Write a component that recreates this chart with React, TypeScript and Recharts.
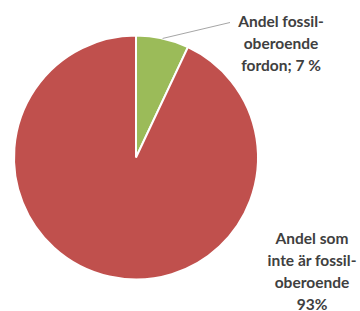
import React from "react";
import { PieChart, Pie, Cell } from "recharts";

const categories = ["Andel fossil-oberoende fordon", "Andel som inte är fossil-oberoende"];
const shares = [7, 93];
const labelLines = [
  ["Andel fossil-", "oberoende", "fordon; 7 %"],
  ["Andel som", "inte är fossil-", "oberoende", "93%"],
];
const colors = ["#9BBB59", "#C0504D"];

const data = categories.map((name, i) => ({ name, value: shares[i] }));

const RAD = Math.PI / 180;

const renderLabel = (props: any) => {
  const { cx, cy, midAngle, outerRadius, index } = props;
  const lines = labelLines[index];
  let tx: number, ty: number;
  let leader: React.ReactNode = null;
  if (index === 0) {
    const sx = cx + outerRadius * Math.cos(-midAngle * RAD);
    const sy = cy + outerRadius * Math.sin(-midAngle * RAD);
    tx = cx + 145;
    ty = cy - 131;
    leader = (
      <line x1={sx} y1={sy} x2={cx + 94} y2={cy - 135} stroke="#A6A6A6" strokeWidth={1} />
    );
  } else {
    tx = cx + 176;
    ty = cy + 86;
  }
  return (
    <g key={`lbl-${index}`}>
      {leader}
      <text
        x={tx}
        y={ty}
        textAnchor="middle"
        fill="#404040"
        fontFamily="Lato, 'Open Sans', sans-serif"
        fontWeight="bold"
        fontSize={15.5}
      >
        {lines.map((l, i) => (
          <tspan key={i} x={tx} dy={i === 0 ? 0 : 22}>
            {l}
          </tspan>
        ))}
      </text>
    </g>
  );
};

export default function App() {
  return (
    <div style={{ position: "absolute", left: 0, top: 0, width: 360, height: 311, background: "#fff" }}>
      <PieChart width={360} height={311} margin={{ top: 0, right: 0, bottom: 0, left: 0 }}>
        <Pie
          data={data}
          dataKey="value"
          nameKey="name"
          cx={136}
          cy={157.5}
          outerRadius={122}
          startAngle={90}
          endAngle={-270}
          stroke="#FFFFFF"
          strokeWidth={2}
          label={renderLabel}
          labelLine={false}
          isAnimationActive={false}
        >
          {data.map((d, i) => (
            <Cell key={d.name} fill={colors[i]} />
          ))}
        </Pie>
      </PieChart>
    </div>
  );
}
